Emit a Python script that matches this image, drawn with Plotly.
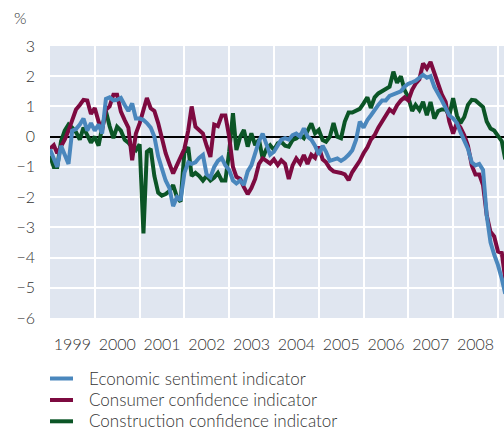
import pandas as pd
import plotly.graph_objects as go

# Monthly observations, Jan 1999 onwards (% deviation)
start_month = "1999-01-01"

economic_sentiment = [
    -0.42, -0.7, -1.0, -0.3, -0.6, -0.9, 0.2, 0.25, 0.4, 0.6, 0.2, 0.45,
    0.2, 0.4, 0.1, 1.25, 1.3, 1.2, 1.22, 1.28, 1.05, 0.85, 1.1, 0.6,
    0.6, 0.55, 0.45, 0.3, 0.0, -0.65, -1.05, -1.45, -1.7, -2.3, -2.0, -2.1,
    -1.2, -0.85, -0.9, -0.85, -0.7, -0.6, -1.25, -1.35, -1.0, -0.8, -0.7, -0.95,
    -1.1, -1.45, -1.55, -1.45, -1.6, -1.15, -0.95, -0.55, -0.15, 0.1, -0.3, -0.6,
    -0.5, -0.3, -0.1, -0.05, -0.1, 0.05, 0.1, 0.0, 0.28, 0.0, -0.1, -0.3,
    -0.6, -0.3, -0.5, -0.8, -0.75, -0.72, -0.8, -0.72, -0.6, -0.45, -0.1, 0.5,
    0.3, 0.55, 0.7, 0.9, 1.05, 1.2, 1.2, 1.35, 1.4, 1.45, 1.5, 1.65,
    1.75, 1.8, 1.85, 1.95, 2.05, 1.95, 2.0, 1.65, 1.45, 1.2, 0.95, 0.7,
    0.6, 0.45, 0.15, -0.1, -0.4, -0.85, -0.95, -0.9, -1.1, -2.6, -3.5, -3.9,
    -4.25, -4.7, -5.2,
]

consumer_confidence = [
    -0.4, -0.28, -0.55, -0.35, -0.1, 0.2, 0.55, 0.9, 1.05, 1.22, 1.2, 0.75,
    0.95, 0.5, 0.22, 0.89, 1.0, 1.39, 1.39, 0.83, 0.55, 0.3, -0.78, 0.1,
    0.44, 0.83, 1.28, 0.94, 0.85, 0.45, -0.1, -0.55, -0.9, -1.22, -0.94, -0.67,
    -0.4, 0.2, 1.0, 0.33, 0.22, 0.1, -0.3, -0.67, 0.4, 0.35, 0.7, 0.7,
    0.0, -1.0, -1.33, -1.4, -1.67, -1.9, -1.7, -1.4, -0.9, -0.72, -0.8, -0.89,
    -0.75, -0.94, -0.78, -0.9, -1.4, -0.95, -0.72, -0.89, -0.61, -0.9, -0.6, -0.7,
    -0.33, -0.75, -0.85, -1.05, -1.15, -1.17, -1.2, -1.25, -1.44, -1.17, -1.0, -0.8,
    -0.55, -0.35, -0.1, 0.05, 0.3, 0.5, 0.7, 0.9, 0.8, 1.04, 1.2, 1.3,
    1.2, 1.55, 1.75, 1.9, 2.42, 2.25, 2.47, 2.1, 1.7, 1.4, 1.15, 0.5,
    0.1, 0.46, 0.3, 0.05, -0.3, -0.95, -1.25, -1.25, -1.6, -2.6, -3.15, -3.3,
    -3.8, -3.85, -4.7,
]

construction_confidence = [
    -0.63, -1.0, -1.0, -0.15, 0.2, 0.4, 0.3, 0.15, -0.1, 0.3, 0.05, -0.2,
    0.0, -0.3, 0.3, 0.84, 0.35, -0.05, 0.33, 0.2, -0.1, -0.2, -0.35, -0.45,
    -0.25, -3.2, -0.5, -0.4, -1.3, -1.85, -1.95, -1.9, -1.8, -1.6, -2.0, -2.15,
    -0.5, -0.35, -1.3, -1.2, -1.3, -1.45, -1.3, -1.45, -1.35, -1.2, -1.45, -1.45,
    -0.5, 0.78, -0.44, 0.0, 0.22, -0.33, 0.11, -0.28, -0.1, -0.72, -0.4, -0.28,
    -0.44, -0.22, -0.17, -0.3, -0.33, -0.11, -0.06, 0.05, -0.05, 0.17, 0.44, 0.11,
    0.22, -0.11, -0.17, 0.0, 0.45, 0.0, -0.05, 0.5, 0.8, 0.8, 0.85, 0.92,
    1.1, 1.3, 0.95, 1.3, 1.43, 1.5, 1.6, 1.65, 2.15, 1.78, 2.0, 1.55,
    1.3, 0.85, 1.05, 0.88, 1.15, 0.71, 1.15, 0.6, 0.85, 0.9, 0.9, 0.7,
    1.27, 0.7, 0.45, 0.65, 1.05, 1.22, 1.2, 1.1, 0.98, 0.5, 0.27, 0.2,
    0.0, -0.15, -0.75,
]

series_names = [
    "Economic sentiment indicator",
    "Consumer confidence indicator",
    "Construction confidence indicator",
]
series_colors = ["#4a87bd", "#7d0a40", "#0b5526"]

y_ticks = [3, 2, 1, 0, -1, -2, -3, -4, -5, -6]

dates = pd.date_range(start_month, periods=len(economic_sentiment), freq="MS")

FONT = "Lato, 'Open Sans', sans-serif"
TXT = "#333333"

W, H = 504, 432
ML, MR, MT, MB = 50, 0, 46, 114
PW, PH = W - ML - MR, H - MT - MB


def px_to_paper(px, py):
    return (px - ML) / PW, (H - MB - py) / PH


fig = go.Figure()
all_vals = [economic_sentiment, consumer_confidence, construction_confidence]
# draw green first, blue last (on top)
for idx in [2, 1, 0]:
    fig.add_trace(go.Scatter(
        x=dates, y=all_vals[idx], mode="lines", name=series_names[idx],
        line=dict(color=series_colors[idx], width=4),
        showlegend=False, hoverinfo="skip",
    ))

# Legend drawn below the plot (samples + labels)
shapes, annotations = [], []
legend_rows_px = [378, 399.5, 420.8]
for name, color, row in zip(series_names, series_colors, legend_rows_px):
    x0, y0 = px_to_paper(50, row + 0.5)
    x1, _ = px_to_paper(73, row + 0.5)
    xt, yt = px_to_paper(87, row)
    shapes.append(dict(type="line", xref="paper", yref="paper",
                       x0=x0, x1=x1, y0=y0, y1=y0,
                       line=dict(color=color, width=4)))
    annotations.append(dict(text=name, xref="paper", yref="paper",
                            x=xt, y=yt, xanchor="left", yanchor="middle",
                            showarrow=False,
                            font=dict(size=17, color=TXT, weight=300)))

px_, py_ = px_to_paper(20, 18)
annotations.append(dict(
    text="%", xref="paper", yref="paper",
    x=px_, y=py_, xanchor="center", yanchor="middle",
    showarrow=False, font=dict(size=16, color=TXT, weight=300),
))

fig.update_layout(
    width=W, height=H,
    margin=dict(l=ML, r=MR, t=MT, b=MB),
    paper_bgcolor="white",
    plot_bgcolor="#e0e6f0",
    font=dict(family=FONT, size=16, color=TXT, weight=300),
    showlegend=False,
    hovermode=False,
    xaxis=dict(
        type="date",
        range=["1999-01-01", "2009-02-19"],
        tick0="1999-01-01",
        dtick="M12",
        tickformat="%Y",
        ticklabelmode="period",
        showgrid=True, gridcolor="white", gridwidth=2,
        zeroline=False, showline=False,
        ticks="", ticklabelstandoff=15,
        tickfont=dict(size=16, color=TXT, weight=300),
    ),
    yaxis=dict(
        range=[-6, 3],
        tickvals=y_ticks,
        showgrid=True, gridcolor="white", gridwidth=2,
        zeroline=True, zerolinecolor="black", zerolinewidth=2,
        showline=False, ticks="", ticklabelstandoff=14,
        tickfont=dict(size=16, color=TXT, weight=300),
    ),
    shapes=shapes,
    annotations=annotations,
)

fig.write_html("out.html",
               config={"displayModeBar": False, "staticPlot": True},
               post_script="document.body.style.margin='0px';")
